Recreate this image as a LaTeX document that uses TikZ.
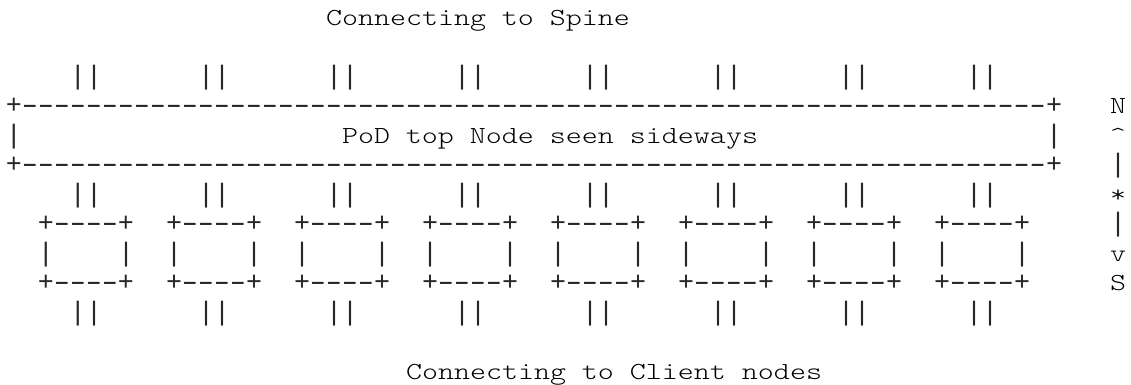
\documentclass[tikz,border=0pt]{standalone}
\usepackage{fontspec}
\setmonofont{lmmonolt10-regular.otf}[FakeStretch=1.244]
\newfontfamily\symfont{Liberation Mono}
\newfontfamily\symwide{Liberation Mono}[FakeStretch=1.6]
\newcommand\dsh{\makebox[16pt][c]{\symwide -}}
\newcommand\pls{\makebox[16pt][c]{\symfont +}}
\newcommand\vbar{\makebox[16pt][c]{\symfont |}}
\newcommand\boxedge{\pls\dsh\dsh\dsh\dsh\pls}
\newcommand\dashrow{\dsh\dsh\dsh\dsh\dsh\dsh\dsh\dsh}
\tikzset{
  asc/.style={inner sep=0pt, outer sep=0pt, anchor=base west,
    font=\ttfamily\fontsize{24.5pt}{29.5pt}\selectfont, text=black},
  art/.style={asc, font=\ttfamily\fontsize{26.67pt}{29.5pt}\selectfont, text=black!85}
}
\begin{document}
\begin{tikzpicture}[x=1pt,y=1pt]
\useasboundingbox (0,0) rectangle (1131,-384);
% column c -> x = 6+16c ; row r -> baseline y = -(25+29.5r)
\node[asc] (spine) at ({6+16*20},{-25-29.5*0}) {Connecting to Spine};
\foreach \i in {0,...,7}{
  \node[art] (up\i) at ({6+16*(4+8*\i)},{-25-29.5*2}) {\vbar\vbar};
  \node[art] (dn\i) at ({6+16*(4+8*\i)},{-25-29.5*6}) {\vbar\vbar};
  \node[art] (bt\i) at ({6+16*(2+8*\i)},{-25-29.5*7}) {\boxedge};
  \node[art] (bl\i) at ({6+16*(2+8*\i)},{-25-29.5*8}) {\vbar};
  \node[art] (br\i) at ({6+16*(7+8*\i)},{-25-29.5*8}) {\vbar};
  \node[art] (bb\i) at ({6+16*(2+8*\i)},{-25-29.5*9}) {\boxedge};
  \node[art] (cl\i) at ({6+16*(4+8*\i)},{-25-29.5*10}) {\vbar\vbar};
}
\node[art] (podtop) at ({6+16*0},{-25-29.5*3}) {\pls\dashrow\dashrow\dashrow\dashrow\dashrow\dashrow\dashrow\dashrow\pls};
\node[art] (podl) at ({6+16*0},{-25-29.5*4}) {\vbar};
\node[asc] (pod) at ({6+16*21},{-25-29.5*4}) {PoD top Node seen sideways};
\node[art] (podr) at ({6+16*65},{-25-29.5*4}) {\vbar};
\node[art] (podbot) at ({6+16*0},{-25-29.5*5}) {\pls\dashrow\dashrow\dashrow\dashrow\dashrow\dashrow\dashrow\dashrow\pls};
% compass
\node[asc] (north) at ({6+16*69},{-25-29.5*3}) {N};
\node[asc] (caret) at ({6+16*69},{-25-29.5*4}) {\textasciicircum};
\node[art] (bar1) at ({6+16*69},{-25-29.5*5}) {\vbar};
\node[asc] (star) at ({6+16*69},{-25-29.5*6}) {*};
\node[art] (bar2) at ({6+16*69},{-25-29.5*7}) {\vbar};
\node[asc] (vee) at ({6+16*69},{-25-29.5*8}) {v};
\node[asc] (south) at ({6+16*69},{-25-29.5*9}) {S};
\node[asc] (client) at ({6+16*25},{-25-29.5*12}) {Connecting to Client nodes};
\end{tikzpicture}
\end{document}
